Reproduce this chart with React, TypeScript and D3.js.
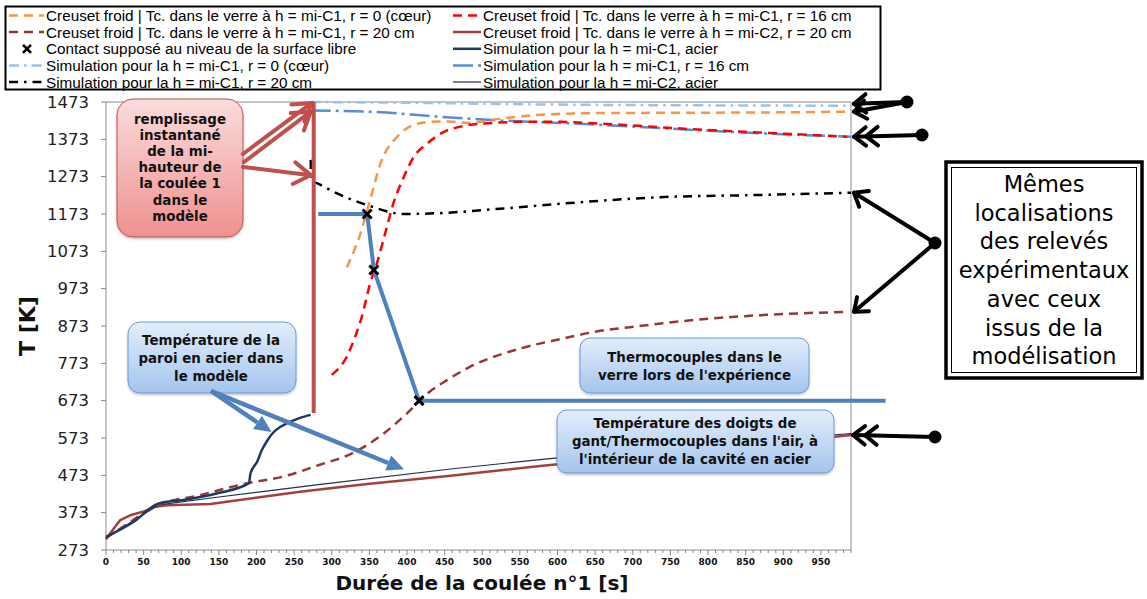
import React from 'react';
import * as d3 from 'd3';

type Pt = [number, number];

// Axis ticks
const xTicks: number[] = d3.range(0, 951, 50);
const xMinorTicks: number[] = d3.range(0, 991, 10);
const yTicks: number[] = [273, 373, 473, 573, 673, 773, 873, 973, 1073, 1173, 1273, 1373, 1473];

// Creuset froid | Tc. dans le verre à h = mi-C1, r = 0 (cœur)  [t (s), T (K)]
const mesureCoeur: Pt[] = [
  [320, 1030], [338, 1120], [351, 1210], [365, 1310], [387, 1380], [408, 1411], [431, 1420],
  [455, 1421], [480, 1417], [530, 1430], [573, 1438], [640, 1443], [737, 1444], [870, 1445], [985, 1447],
];
// Creuset froid | Tc. dans le verre à h = mi-C1, r = 16 cm
const mesureR16: Pt[] = [
  [300, 742], [320, 791], [331, 844], [340, 898], [351, 987], [360, 1041], [371, 1121], [382, 1202],
  [394, 1264], [409, 1326], [427, 1362], [449, 1393], [471, 1407], [507, 1416], [560, 1420], [604, 1420],
  [648, 1416], [781, 1400], [892, 1389], [985, 1380],
];
// Creuset froid | Tc. dans le verre à h = mi-C1, r = 20 cm
const mesureR20: Pt[] = [
  [0, 305], [30, 345], [65, 390], [125, 420], [188, 452], [236, 470], [285, 502], [325, 530],
  [369, 585], [400, 639], [427, 692], [453, 728], [484, 764], [551, 813], [604, 838], [657, 860],
  [693, 869], [781, 889], [870, 902], [985, 911],
];
// Creuset froid | Tc. dans le verre à h = mi-C2, r = 20 cm
const mesureC2: Pt[] = [
  [0, 302], [12, 335], [19, 353], [32, 366], [50, 376], [66, 389], [81, 393], [139, 396], [170, 405],
  [258, 429], [347, 450], [458, 472], [577, 498], [968, 576], [990, 581],
];
// Simulation pour la h = mi-C1, acier
const simAcierC1: Pt[] = [
  [0, 308], [37, 349], [70, 398], [103, 407], [148, 425], [190, 452], [192, 478], [201, 510],
  [207, 540], [214, 565], [222, 587], [232, 603], [245, 617], [258, 627], [272, 635],
];
// Simulation pour la h = mi-C2, acier
const simAcierC2: Pt[] = [
  [0, 305], [70, 394], [150, 415], [285, 449], [458, 490], [600, 520], [990, 585],
];
// Simulation pour la h = mi-C1, r = 0 (cœur)
const simCoeur: Pt[] = [[272, 1473], [400, 1471], [604, 1466], [990, 1463]];
// Simulation pour la h = mi-C1, r = 16 cm
const simR16: Pt[] = [
  [272, 1450], [351, 1447], [440, 1434], [529, 1423], [604, 1417], [737, 1403], [870, 1389], [990, 1380],
];
// Simulation pour la h = mi-C1, r = 20 cm
const simR20: Pt[] = [
  [272, 1318], [273, 1262], [281, 1255], [307, 1228], [347, 1197], [396, 1173], [440, 1175],
  [529, 1188], [640, 1206], [737, 1218], [870, 1224], [990, 1230],
];
// Thermocouples dans le verre lors de l'expérience (trajet reconstitué)
const thermoTemps: number[] = [282, 347, 356, 416, 1036];
const thermoValeurs: number[] = [1173, 1173, 1023, 673, 673];
// Contact supposé au niveau de la surface libre
const contacts: Pt[] = [[347, 1173], [356, 1023], [416, 673]];
// Remplissage instantané : instant et plage de température
const remplissageT = 276;
const remplissagePlage: number[] = [640, 1473];

const legendLeft: string[] = [
  'Creuset froid | Tc. dans le verre à h = mi-C1, r = 0 (cœur)',
  'Creuset froid | Tc. dans le verre à h = mi-C1, r = 20 cm',
  'Contact supposé au niveau de la surface libre',
  'Simulation pour la h = mi-C1, r = 0 (cœur)',
  'Simulation pour la h = mi-C1, r = 20 cm',
];
const legendRight: string[] = [
  'Creuset froid | Tc. dans le verre à h = mi-C1, r = 16 cm',
  'Creuset froid | Tc. dans le verre à h = mi-C2, r = 20 cm',
  'Simulation pour la h = mi-C1, acier',
  'Simulation pour la h = mi-C1, r = 16 cm',
  'Simulation pour la h = mi-C2, acier',
];

const C = {
  orange: '#F79646',
  red: '#FF0000',
  brown: '#953735',
  redSolid: '#A3403D',
  navy: '#1F3A62',
  thin: '#1F2F4A',
  lightBlue: '#9DC3E6',
  medBlue: '#558ED5',
  black: '#000000',
  thermo: '#4F81BD',
  fill: '#C0504D',
};

type Style = { color: string; width: number; dash?: string };
const S: Record<string, Style> = {
  coeur: { color: C.orange, width: 2.5, dash: '9 6' },
  r16: { color: C.red, width: 2.5, dash: '9 6' },
  r20: { color: C.brown, width: 2.5, dash: '9 6' },
  c2: { color: C.redSolid, width: 2.5 },
  acier1: { color: C.navy, width: 2.5 },
  acier2: { color: C.thin, width: 1.2 },
  simCoeur: { color: C.lightBlue, width: 2.5, dash: '10 5 2.5 5' },
  simR16: { color: C.medBlue, width: 2.5, dash: '20 5 3 5' },
  simR20: { color: C.black, width: 2.5, dash: '9 6 2.5 6' },
};

function vHead(tx: number, ty: number, fx: number, fy: number, len: number, angDeg: number) {
  const a = Math.atan2(ty - fy, tx - fx);
  const ang = (angDeg * Math.PI) / 180;
  const p1 = [tx - len * Math.cos(a - ang), ty - len * Math.sin(a - ang)];
  const p2 = [tx - len * Math.cos(a + ang), ty - len * Math.sin(a + ang)];
  return `M${p1[0]},${p1[1]}L${tx},${ty}L${p2[0]},${p2[1]}`;
}

function back(tx: number, ty: number, fx: number, fy: number, d: number): [number, number] {
  const a = Math.atan2(ty - fy, tx - fx);
  return [tx - d * Math.cos(a), ty - d * Math.sin(a)];
}

function BlackArrow({ from, tip, double }: { from: Pt; tip: Pt; double?: boolean }) {
  const [fx, fy] = from;
  const [tx, ty] = tip;
  const b = back(tx, ty, fx, fy, 12);
  return (
    <g stroke="#000" strokeWidth={4} fill="none" strokeLinecap="round" strokeLinejoin="round">
      <line x1={fx} y1={fy} x2={tx} y2={ty} />
      <path d={vHead(tx, ty, fx, fy, 15, 38)} />
      {double && <path d={vHead(b[0], b[1], fx, fy, 15, 38)} />}
    </g>
  );
}

function RedArrow({ from, tip }: { from: Pt; tip: Pt }) {
  return (
    <g stroke={C.fill} strokeWidth={4} fill="none" strokeLinecap="round" strokeLinejoin="miter">
      <line x1={from[0]} y1={from[1]} x2={tip[0]} y2={tip[1]} />
      <path d={vHead(tip[0], tip[1], from[0], from[1], 20, 33)} />
    </g>
  );
}

function BlueArrow({ from, tip }: { from: Pt; tip: Pt }) {
  const [fx, fy] = from;
  const [tx, ty] = tip;
  const a = Math.atan2(ty - fy, tx - fx);
  const L = 17;
  const hw = 8;
  const bx = tx - L * Math.cos(a);
  const by = ty - L * Math.sin(a);
  const nx = -Math.sin(a);
  const ny = Math.cos(a);
  return (
    <g>
      <line x1={fx} y1={fy} x2={bx} y2={by} stroke={C.thermo} strokeWidth={4.5} />
      <path d={`M${tx},${ty}L${bx + nx * hw},${by + ny * hw}L${bx - nx * hw},${by - ny * hw}Z`} fill={C.thermo} />
    </g>
  );
}

function Callout({ x, y, w, h, r, lines, cx, cy0, dy, grad, stroke }: {
  x: number; y: number; w: number; h: number; r: number; lines: string[];
  cx: number; cy0: number; dy: number; grad: string; stroke: string;
}) {
  return (
    <g>
      <rect x={x} y={y} width={w} height={h} rx={r} ry={r} fill={`url(#${grad})`} stroke={stroke} strokeWidth={1} filter="url(#shadow)" />
      {lines.map((t, i) => (
        <text key={i} x={cx} y={cy0 + i * dy} textAnchor="middle" dominantBaseline="central"
          fontFamily="'DejaVu Sans', Verdana, sans-serif" fontWeight="bold" fontSize={13.4} fill="#111">{t}</text>
      ))}
    </g>
  );
}

function LegendSample({ x0, x1, y0, st }: { x0: number; x1: number; y0: number; st: Style }) {
  return <line x1={x0} y1={y0} x2={x1} y2={y0} stroke={st.color} strokeWidth={st.width} strokeDasharray={st.dash} />;
}

export default function App() {
  const x = d3.scaleLinear().domain([0, 990]).range([106, 851]);
  const y = d3.scaleLinear().domain([273, 1473]).range([550, 102]);
  const smooth = d3.line<Pt>().x((d) => x(d[0])).y((d) => y(d[1])).curve(d3.curveMonotoneX);
  const straight = d3.line<Pt>().x((d) => x(d[0])).y((d) => y(d[1]));

  const thermo: Pt[] = thermoTemps.map((t, i) => [t, thermoValeurs[i]]);

  const series: { data: Pt[]; st: Style; curve?: boolean }[] = [
    { data: mesureC2, st: S.c2 },
    { data: simAcierC2, st: S.acier2 },
    { data: mesureR20, st: S.r20, curve: true },
    { data: simAcierC1, st: S.acier1, curve: true },
    { data: simCoeur, st: S.simCoeur, curve: true },
    { data: simR16, st: S.simR16, curve: true },
    { data: simR20, st: S.simR20, curve: true },
    { data: mesureCoeur, st: S.coeur, curve: true },
    { data: mesureR16, st: S.r16, curve: true },
  ];

  const rowY = [15.5, 32, 48.8, 65.5, 82];
  const leftSamples: Style[] = [S.coeur, S.r20, S.coeur, S.simCoeur, S.simR20];
  const rightSamples: Style[] = [S.r16, S.c2, S.acier1, S.simR16, S.acier2];

  const legendFont = "'Liberation Sans', Arial, sans-serif";
  const axisFont = "'DejaVu Sans', Verdana, sans-serif";

  const xs = 9; // size of contact marker

  return (
    <div style={{ position: 'fixed', left: 0, top: 0 }}>
      <svg width={1147} height={599} viewBox="0 0 1147 599" style={{ display: 'block', background: '#fff' }}>
        <defs>
          <linearGradient id="gRed" x1="0" y1="0" x2="0" y2="1">
            <stop offset="0" stopColor="#FADCDC" />
            <stop offset="1" stopColor="#EE918F" />
          </linearGradient>
          <linearGradient id="gBlue" x1="0" y1="0" x2="0" y2="1">
            <stop offset="0" stopColor="#E3EEFB" />
            <stop offset="1" stopColor="#A4C4EE" />
          </linearGradient>
          <filter id="shadow" x="-10%" y="-10%" width="120%" height="130%">
            <feDropShadow dx="0" dy="1.5" stdDeviation="1.2" floodColor="#000" floodOpacity="0.25" />
          </filter>
        </defs>
        <rect x={0} y={0} width={1147} height={599} fill="#fff" />

        {/* plot frame */}
        <rect x={x(0)} y={y(1473)} width={x(990) - x(0)} height={y(273) - y(1473)} fill="none" stroke="#8C8C8C" strokeWidth={1} />

        {/* y axis */}
        {yTicks.map((t) => (
          <g key={t}>
            <line x1={x(0) - 5} x2={x(0)} y1={y(t)} y2={y(t)} stroke="#868686" />
            <text x={89} y={y(t)} textAnchor="end" dominantBaseline="central" fontFamily={axisFont} fontSize={16.5} fill="#222">{t}</text>
          </g>
        ))}
        {/* x axis */}
        {xMinorTicks.map((t) => (
          <line key={'m' + t} x1={x(t)} x2={x(t)} y1={y(273)} y2={y(273) + (t % 50 === 0 ? 5 : 3)} stroke="#868686" />
        ))}
        {xTicks.map((t) => (
          <text key={t} x={x(t)} y={565} textAnchor="middle" fontFamily={axisFont} fontWeight="bold" fontSize={9} fill="#111">{t}</text>
        ))}
        <text x={482} y={590} textAnchor="middle" fontFamily={axisFont} fontWeight="bold" fontSize={20} fill="#111">Durée de la coulée n°1 [s]</text>
        <text transform="translate(35,326) rotate(-90)" textAnchor="middle" fontFamily={axisFont} fontWeight="bold" fontSize={22} fill="#111">T [K]</text>

        {/* data series */}
        {series.map((s, i) => (
          <path key={i} d={(s.curve ? smooth : straight)(s.data) || ''} fill="none" stroke={s.st.color}
            strokeWidth={s.st.width} strokeDasharray={s.st.dash} strokeLinejoin="round" />
        ))}

        {/* instant filling */}
        <line x1={x(remplissageT)} x2={x(remplissageT)} y1={y(remplissagePlage[0])} y2={y(remplissagePlage[1])} stroke={C.fill} strokeWidth={4} />

        {/* glass thermocouples path */}
        <path d={straight(thermo) || ''} fill="none" stroke={C.thermo} strokeWidth={4} strokeLinejoin="miter" />
        {contacts.map((p, i) => (
          <g key={i} stroke="#000" strokeWidth={3}>
            <line x1={x(p[0]) - xs / 2} y1={y(p[1]) - xs / 2} x2={x(p[0]) + xs / 2} y2={y(p[1]) + xs / 2} />
            <line x1={x(p[0]) - xs / 2} y1={y(p[1]) + xs / 2} x2={x(p[0]) + xs / 2} y2={y(p[1]) - xs / 2} />
          </g>
        ))}

        {/* callouts */}
        <Callout x={117} y={99} w={126} h={138} r={16} grad="gRed" stroke="#C0504D"
          lines={['remplissage', 'instantané', 'de la mi-', 'hauteur de', 'la coulée 1', 'dans le', 'modèle']}
          cx={180} cy0={119.5} dy={16.1} />
        <RedArrow from={[243, 154]} tip={[x(273), y(1470)]} />
        <RedArrow from={[244, 162]} tip={[x(272), y(1447)]} />
        <RedArrow from={[243, 167]} tip={[x(272), y(1277)]} />

        <Callout x={128} y={322} w={168} h={71} r={12} grad="gBlue" stroke="#6E9AD1"
          lines={['Température de la', 'paroi en acier dans', 'le modèle']}
          cx={211} cy0={340} dy={18.3} />
        <BlueArrow from={[211, 391]} tip={[x(220), y(589)]} />
        <BlueArrow from={[211, 391]} tip={[x(396), y(489)]} />

        <Callout x={580} y={338} w={229} h={55} r={10} grad="gBlue" stroke="#6E9AD1"
          lines={['Thermocouples dans le', "verre lors de l'expérience"]}
          cx={694.5} cy0={357.3} dy={17.7} />
        <Callout x={557} y={410} w={277} h={63} r={10} grad="gBlue" stroke="#6E9AD1"
          lines={['Température des doigts de', "gant/Thermocouples dans l'air, à", "l'intérieur de la cavité en acier"]}
          cx={695} cy0={423.5} dy={18} />

        {/* legend */}
        <rect x={5.5} y={6.5} width={875} height={83} fill="#fff" stroke="#000" strokeWidth={2} />
        {legendLeft.map((t, i) => (
          <g key={'l' + i}>
            {i === 2 ? (
              <g stroke="#000" strokeWidth={2.6}>
                <line x1={23} y1={rowY[i] - 4} x2={31} y2={rowY[i] + 4} />
                <line x1={23} y1={rowY[i] + 4} x2={31} y2={rowY[i] - 4} />
              </g>
            ) : (
              <LegendSample x0={9} x1={44} y0={rowY[i]} st={leftSamples[i]} />
            )}
            <text x={46} y={rowY[i]} dominantBaseline="central" fontFamily={legendFont} fontSize={15.3} fill="#000">{t}</text>
          </g>
        ))}
        {legendRight.map((t, i) => (
          <g key={'r' + i}>
            <LegendSample x0={453} x1={481} y0={rowY[i]} st={rightSamples[i]} />
            <text x={483} y={rowY[i]} dominantBaseline="central" fontFamily={legendFont} fontSize={15.3} fill="#000">{t}</text>
          </g>
        ))}

        {/* right annotation */}
        <BlackArrow from={[907, 102]} tip={[x(990) + 3, y(1468)]} />
        <BlackArrow from={[907, 102]} tip={[x(990) + 3, y(1447)]} />
        <circle cx={907} cy={102} r={6.5} fill="#000" />
        <BlackArrow from={[922, 135]} tip={[x(990) + 3, y(1380)]} double />
        <circle cx={922} cy={135} r={6.5} fill="#000" />
        <BlackArrow from={[935, 243]} tip={[x(990) + 3, y(1230)]} />
        <BlackArrow from={[935, 243]} tip={[x(990) + 3, y(911)]} />
        <circle cx={935} cy={243} r={6.5} fill="#000" />
        <BlackArrow from={[935, 437]} tip={[x(990) + 2, y(581)]} double />
        <circle cx={935} cy={437} r={6.5} fill="#000" />

        <rect x={946} y={162} width={196} height={216} fill="#fff" stroke="#000" strokeWidth={3.5} />
        <rect x={951.5} y={167.5} width={185} height={205} fill="none" stroke="#000" strokeWidth={1} />
        {['Mêmes', 'localisations', 'des relevés', 'expérimentaux', 'avec ceux', 'issus de la', 'modélisation'].map((t, i) => (
          <text key={t} x={1044} y={184 + i * 28.7} textAnchor="middle" dominantBaseline="central"
            fontFamily={axisFont} fontSize={22.5} fill="#000">{t}</text>
        ))}
      </svg>
    </div>
  );
}
